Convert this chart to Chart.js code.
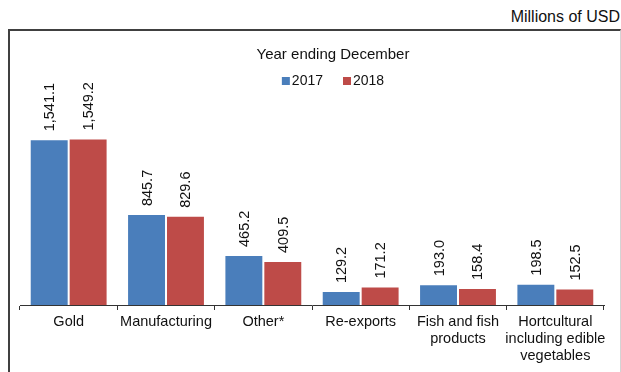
<!DOCTYPE html>
<html>
<head>
<meta charset="utf-8">
<title>Exports by product</title>
<script src="https://cdn.jsdelivr.net/npm/chart.js@4.4.1/dist/chart.umd.min.js"></script>
<style>
  html, body { margin: 0; padding: 0; background: #fff; }
  body { width: 621px; height: 372px; position: relative; overflow: hidden;
         font-family: 'Liberation Sans', Arial, sans-serif; }
  #frame { position: absolute; left: 8px; top: 29px; width: 610px; height: 360px;
           border-left: 2px solid #404040; border-top: 2px solid #404040;
           border-right: 1px solid #d4d4d4; }
  #units { position: absolute; right: 1px; top: 8px; font-size: 16px; color: #111; }
  #wrap  { position: absolute; left: 0; top: 0; width: 621px; height: 372px; }
</style>
</head>
<body>
<div id="frame"></div>
<div id="units">Millions of USD</div>
<div id="wrap"><canvas id="exportsChart"></canvas></div>

<script>
// ── Data ────────────────────────────────────────────────────────────────────
const CATEGORIES = [
    ['Gold'],
    ['Manufacturing'],
    ['Other*'],
    ['Re-exports'],
    ['Fish and fish', 'products'],
    ['Hortcultural', 'including edible', 'vegetables']
];
const SERIES_LABELS = ['2017', '2018'];
const VALUES_2017   = [1541.1, 845.7, 465.2, 129.2, 193.0, 198.5];
const VALUES_2018   = [1549.2, 829.6, 409.5, 171.2, 158.4, 152.5];
const Y_MAX = 2000;

// ── Theme ───────────────────────────────────────────────────────────────────
const FONT  = "'Liberation Sans', Arial, sans-serif";
const INK   = '#111';
const BLUE  = '#4a7ebb';
const RED   = '#be4b48';
const HEADER_SHIFT = 21;   // title + legend sit a little right of the plot centre

const fmt = v => v.toLocaleString('en-US', { minimumFractionDigits: 1, maximumFractionDigits: 1 });

// Vertical value labels above each bar
const valueLabels = {
    id: 'valueLabels',
    afterDatasetsDraw(chart) {
        const ctx = chart.ctx;
        ctx.save();
        ctx.font = '14.5px ' + FONT;
        ctx.fillStyle = INK;
        ctx.textAlign = 'left';
        ctx.textBaseline = 'middle';
        chart.data.datasets.forEach((ds, i) => {
            chart.getDatasetMeta(i).data.forEach((bar, j) => {
                ctx.save();
                ctx.translate(bar.x + 1, bar.y - 8);
                ctx.rotate(-Math.PI / 2);
                ctx.fillText(fmt(ds.data[j]), 0, 0);
                ctx.restore();
            });
        });
        ctx.restore();
    }
};

// Title offset + a compact square-swatch legend under it
const header = {
    id: 'header',
    afterLayout(chart) {
        const t = chart.titleBlock;
        if (t) { t.left += HEADER_SHIFT; t.right += HEADER_SHIFT; }
    },
    afterDraw(chart) {
        const ctx = chart.ctx;
        const area = chart.chartArea;
        const box = 8, gap = 2, spacing = 20, y = 81;
        ctx.save();
        ctx.font = '14px ' + FONT;
        ctx.textBaseline = 'middle';
        ctx.textAlign = 'left';
        const items = chart.data.datasets.map(ds => ({
            text: ds.label, color: ds.backgroundColor, w: ctx.measureText(ds.label).width
        }));
        const total = items.reduce((s, it) => s + box + gap + it.w, 0) + spacing * (items.length - 1);
        let x = (area.left + area.right) / 2 + HEADER_SHIFT - total / 2;
        items.forEach(it => {
            ctx.fillStyle = it.color;
            ctx.fillRect(x, y - box / 2, box, box);
            x += box + gap;
            ctx.fillStyle = INK;
            ctx.fillText(it.text, x, y + 0.5);
            x += it.w + spacing;
        });
        ctx.restore();
    }
};

new Chart(document.getElementById('exportsChart'), {
    type: 'bar',
    data: {
        labels: CATEGORIES,
        datasets: [
            {
                label: SERIES_LABELS[0],
                data: VALUES_2017,
                backgroundColor: BLUE,
                borderColor: 'rgba(255,255,255,.35)',
                borderWidth: 1,
                categoryPercentage: 0.8,
                barPercentage: 1.0
            },
            {
                label: SERIES_LABELS[1],
                data: VALUES_2018,
                backgroundColor: RED,
                borderColor: 'rgba(255,255,255,.35)',
                borderWidth: 1,
                categoryPercentage: 0.8,
                barPercentage: 1.0
            }
        ]
    },
    options: {
        responsive: true,
        maintainAspectRatio: false,
        animation: false,
        layout: { padding: { left: 20, right: 17, top: 0, bottom: 0 } },
        plugins: {
            legend: { display: false },
            tooltip: { enabled: false },
            title: {
                display: true,
                text: 'Year ending December',
                color: INK,
                font: { family: FONT, size: 15, weight: 'normal', lineHeight: 1.2 },
                padding: { top: 46, bottom: 26 }
            }
        },
        scales: {
            x: {
                grid: {
                    offset: true,
                    drawOnChartArea: false,
                    drawTicks: true,
                    tickLength: 5,
                    color: '#333',
                    lineWidth: 1
                },
                border: { color: '#333', width: 1 },
                ticks: {
                    color: INK,
                    font: { family: FONT, size: 14.5, lineHeight: 1.17 },
                    padding: 4,
                    maxRotation: 0,
                    autoSkip: false
                },
                afterFit(scale) { scale.height = 67; }
            },
            y: { display: false, min: 0, max: Y_MAX }
        }
    },
    plugins: [valueLabels, header]
});
</script>
</body>
</html>
